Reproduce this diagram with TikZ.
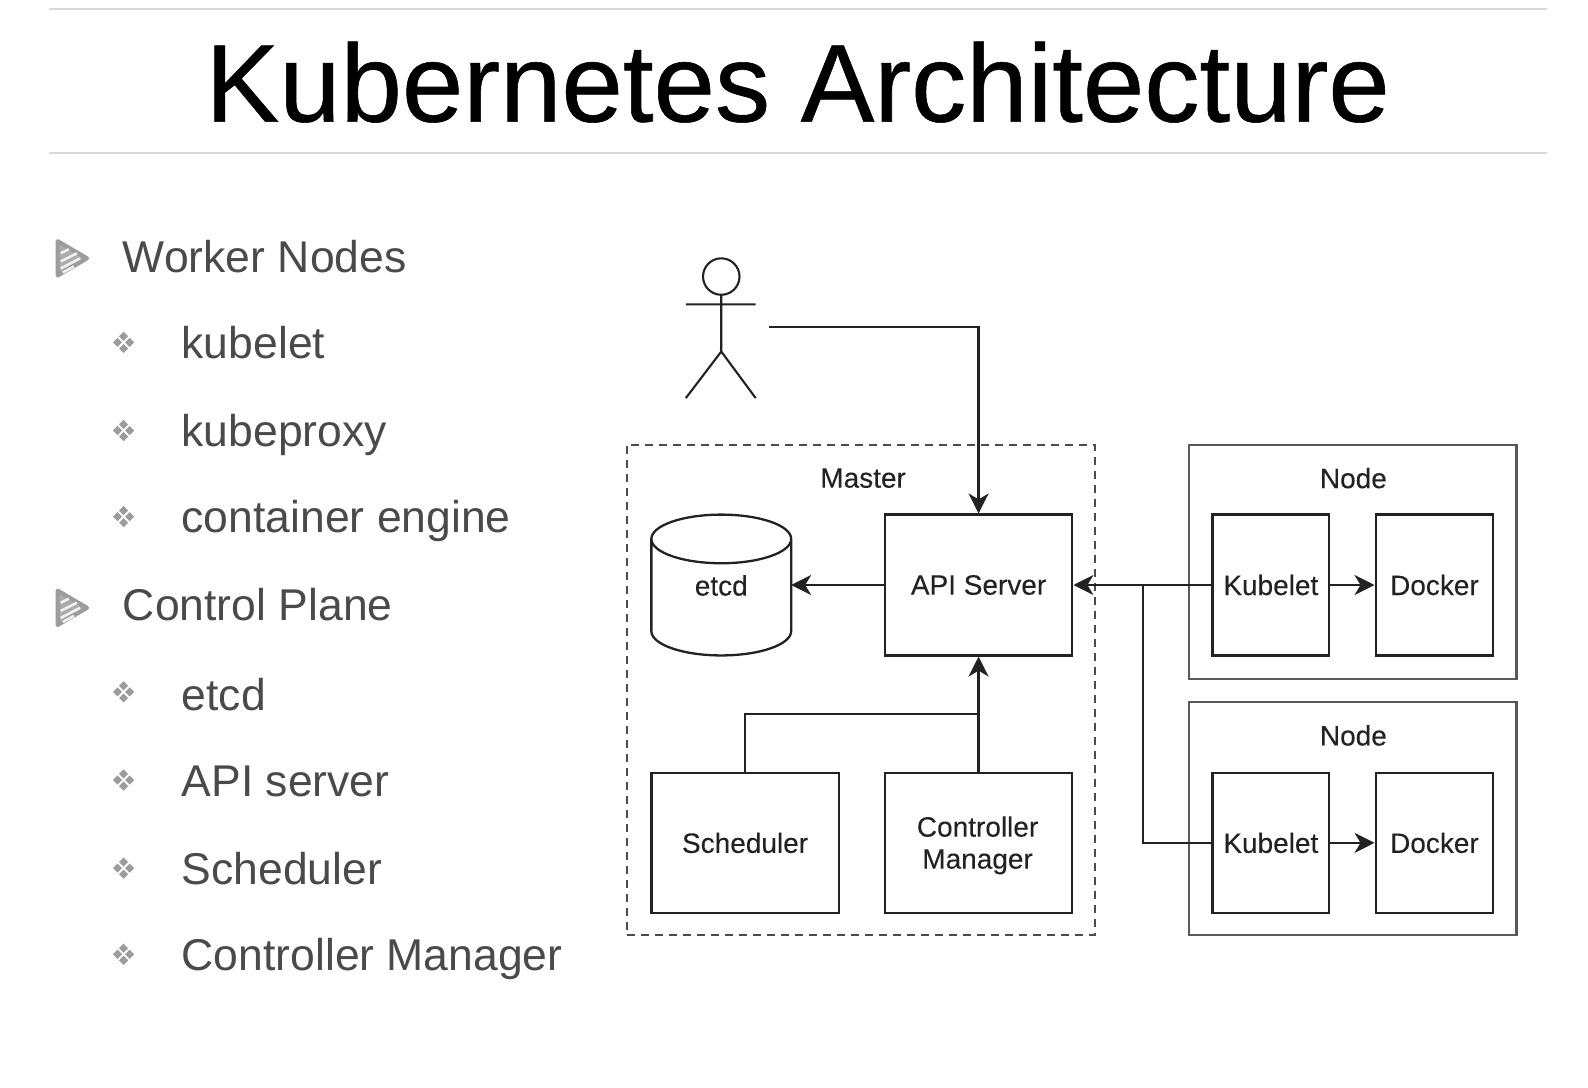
\documentclass[tikz,border=0pt]{standalone}
\usepackage{fontspec}
\setmainfont{Liberation Sans}
\newfontfamily\titlefont[FakeBold=0.5]{Liberation Sans}
\newfontfamily\labfont[FakeBold=0.15]{Liberation Sans}
\usetikzlibrary{arrows.meta,shapes.geometric,calc}
\def\pxu{0.5065pt}
\definecolor{bodytxt}{HTML}{4A4A4A}
\definecolor{bulletc}{HTML}{9C9C9C}
\definecolor{rulec}{HTML}{D9D9D9}
\definecolor{ink}{HTML}{222222}
\tikzset{
  x=0.5065pt,y=-0.5065pt,
  boxn/.style={draw=ink,line width=1.15pt,rectangle,inner sep=0pt,align=center,text=ink,
    font=\labfont\fontsize{14}{16}\selectfont},
  outerbox/.style={draw=black!65,line width=1.15pt,rectangle,inner sep=0pt},
  masterbox/.style={draw=black!70,line width=0.9pt,dash pattern=on 4pt off 3pt,rectangle,inner sep=0pt},
  lab/.style={text=ink,font=\labfont\fontsize{14}{16}\selectfont,inner sep=0pt},
  conn/.style={draw=ink,line width=1.15pt},
  arr/.style={conn,-{Stealth[length=10pt,width=10pt,inset=3pt]}},
  rulel/.style={draw=rulec,line width=0.8pt},
  head1/.style={anchor=base west,text=bodytxt,inner sep=0pt,font=\fontsize{22.25}{26}\selectfont},
  actor/.style={draw=ink,line width=1.05pt},
}
\newcommand{\tribullet}[2]{%
  \begin{scope}[shift={(#1,#2)}]
    \draw[draw=bulletc,line width=2pt,line join=round,fill=bulletc!85] (-14,-17) -- (15,0) -- (-14,17) -- cycle;
    \draw[draw=white!85!bulletc,line width=1.3pt] (-11,-5) -- (-3,-9) (-11,3) -- (5,-5) (-11,10) -- (8,0) (-9,14) -- (2,8);
  \end{scope}}
\newcommand{\diabullet}[2]{%
  \begin{scope}[shift={(#1,#2)}]
    \foreach \dx/\dy in {0/-6,6/0,0/6,-6/0}
      \fill[bulletc] (\dx-4.5,\dy) -- (\dx,\dy-4.5) -- (\dx+4.5,\dy) -- (\dx,\dy+4.5) -- cycle;
  \end{scope}}
\begin{document}
\begin{tikzpicture}
\useasboundingbox (0,0) rectangle (1567.6,1074);
% title
\draw[rulel] (48,9) -- (1527,9);
\draw[rulel] (48,151) -- (1527,151);
\node[anchor=base,inner sep=0pt,text=black,font=\titlefont\fontsize{55.2}{60}\selectfont] (title) at (787.5,120) {Kubernetes Architecture};
% list
\tribullet{71}{255}
\tribullet{71}{600}
\foreach \yy in {338,425,510,683,770,857,942} {\diabullet{122}{\yy}}
\node[head1] (l1) at (121,269) {Worker Nodes};
\node[head1] (l2) at (179,354) {kubelet};
\node[head1] (l3) at (179,441) {kubeproxy};
\node[head1] (l4) at (179,526) {container engine};
\node[head1] (l5) at (121,613) {Control Plane};
\node[head1] (l6) at (179,701) {etcd};
\node[head1] (l7) at (179,786) {API server};
\node[head1] (l8) at (179,873) {Scheduler};
\node[head1] (l9) at (179,958) {Controller Manager};
% outer boxes
\node[masterbox,minimum width=462*\pxu,minimum height=484*\pxu] (master) at (850,681) {};
\node[outerbox,minimum width=323*\pxu,minimum height=231*\pxu] (node1) at (1335.5,554.5) {};
\node[outerbox,minimum width=323*\pxu,minimum height=230*\pxu] (node2) at (1335.5,808) {};
\node[lab] (mlab) at (852,472) {Master};
\node[lab] (n1lab) at (1336,472) {Node};
\node[lab] (n2lab) at (1336,726) {Node};
% inner boxes
\node[boxn,minimum width=185*\pxu,minimum height=139*\pxu] (api) at (966,577.5) {API Server};
\node[boxn,minimum width=185*\pxu,minimum height=138*\pxu] (sched) at (735.5,832) {Scheduler};
\node[boxn,minimum width=185*\pxu,minimum height=138*\pxu] (ctrl) at (966,832) {};
\node[lab,align=center] (ctrlt) at (965,834.5) {Controller\\Manager};
\node[boxn,minimum width=115*\pxu,minimum height=139*\pxu] (kub1) at (1254.5,577.5) {Kubelet};
\node[boxn,minimum width=116*\pxu,minimum height=139*\pxu] (doc1) at (1416,577.5) {Docker};
\node[boxn,minimum width=115*\pxu,minimum height=138*\pxu] (kub2) at (1254.5,832) {Kubelet};
\node[boxn,minimum width=116*\pxu,minimum height=138*\pxu] (doc2) at (1416,832) {Docker};
% etcd cylinder
\draw[conn,fill=white] (643,532) arc[start angle=180,end angle=360,x radius=69,y radius=-24]
  -- (781,623) arc[start angle=0,end angle=-180,x radius=69,y radius=-24] -- cycle;
\draw[conn] (643,532) arc[start angle=180,end angle=0,x radius=69,y radius=-24];
\node[lab] (etcd) at (712,578) {etcd};
\coordinate (etcde) at (781,577.5);
% actor
\draw[actor] (712,273) circle[radius=18];
\draw[actor] (712,291) -- (712,347) (677,300.5) -- (746,300.5) (677,393) -- (712,347) -- (746,393);
\coordinate (user) at (759,323);
% connectors
\draw[arr] (user) -| (api.north);
\draw[arr] (api.west) -- (etcde);
\draw[arr] (kub1.east) -- (doc1.west);
\draw[arr] (kub2.east) -- (doc2.west);
\draw[arr] (kub1.west) -- (api.east);
\coordinate (jn) at (1128,577.5);
\draw[conn] (kub2.west) -| (jn);
\draw[arr] (ctrl.north) -- (api.south);
\coordinate (jc) at (966,705);
\draw[conn] (sched.north) |- (jc);
\end{tikzpicture}
\end{document}
